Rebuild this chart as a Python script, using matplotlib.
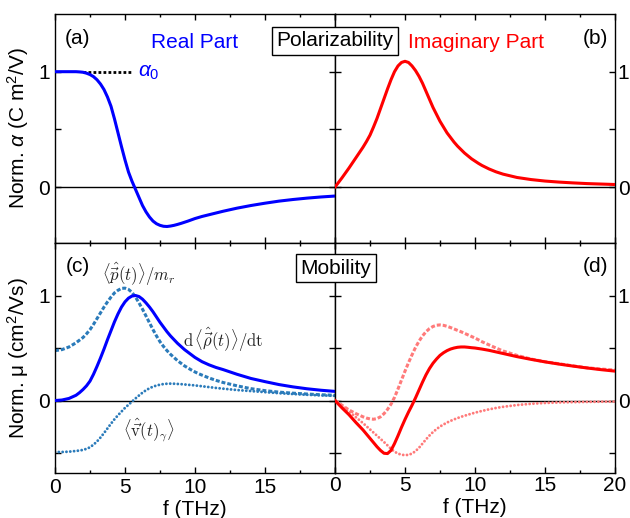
import matplotlib
matplotlib.use('Agg')
import matplotlib.pyplot as plt

plt.rcParams['font.family'] = ['Liberation Sans', 'DejaVu Sans']
plt.rcParams['mathtext.fontset'] = 'custom'
plt.rcParams['mathtext.rm'] = 'Liberation Sans'
plt.rcParams['mathtext.it'] = 'Liberation Sans:italic'
plt.rcParams['mathtext.bf'] = 'Liberation Sans:bold'

# ---------------- data ----------------
freq = [0.0, 0.5, 1.0,
        1.5, 1.75, 2.0, 2.25, 2.5, 2.75, 3.0, 3.25, 3.5, 3.75,
        4.0, 4.25, 4.5, 4.75, 5.0, 5.25, 5.5, 5.75, 6.0, 6.25,
        6.5, 6.75, 7.0, 7.25, 7.5, 7.75, 8.0, 8.25, 8.5, 8.75,
        9.0, 9.25, 9.5, 9.75, 10.0, 10.25, 10.5,
        11.0, 11.5, 12.0, 13.0, 14.0, 15.0, 16.0, 17.0, 18.0, 19.0, 20.0]

alpha_real = [1.0, 1.0, 1.0,
              1.0, 0.998, 0.995, 0.987, 0.975, 0.957, 0.93, 0.893, 0.845, 0.78,
              0.70, 0.59, 0.47, 0.35, 0.235, 0.13, 0.05, -0.02, -0.09, -0.16,
              -0.215, -0.26, -0.295, -0.318, -0.332, -0.34, -0.342, -0.338, -0.332, -0.324,
              -0.315, -0.305, -0.295, -0.284, -0.273, -0.264, -0.255,
              -0.24, -0.225, -0.21, -0.183, -0.16, -0.14, -0.122, -0.108, -0.096, -0.086, -0.078]

alpha_imag = [0.0, 0.08, 0.165,
              0.255, 0.30, 0.345, 0.395, 0.45, 0.52, 0.595, 0.68, 0.765, 0.85,
              0.93, 1.0, 1.05, 1.08, 1.09, 1.08, 1.05, 1.01, 0.96, 0.90,
              0.83, 0.76, 0.69, 0.63, 0.57, 0.52, 0.47, 0.43, 0.39, 0.355,
              0.325, 0.295, 0.27, 0.245, 0.225, 0.205, 0.187,
              0.157, 0.132, 0.112, 0.083, 0.065, 0.052, 0.043, 0.036, 0.030, 0.026, 0.022]

mu_real = [0.0, 0.005, 0.02,
           0.05, 0.075, 0.105, 0.14, 0.185, 0.25, 0.325, 0.405, 0.49, 0.58,
           0.665, 0.75, 0.825, 0.89, 0.94, 0.975, 0.995, 1.0, 0.99, 0.965,
           0.93, 0.89, 0.845, 0.795, 0.745, 0.70, 0.655, 0.615, 0.58, 0.545,
           0.515, 0.485, 0.46, 0.435, 0.41, 0.39, 0.37,
           0.34, 0.315, 0.295, 0.25, 0.21, 0.18, 0.152, 0.13, 0.112, 0.098, 0.087]

mu_real_p = [0.475, 0.485, 0.51,
             0.55, 0.575, 0.60, 0.635, 0.675, 0.725, 0.78, 0.835, 0.89, 0.94,
             0.985, 1.025, 1.05, 1.068, 1.07, 1.058, 1.03, 0.985, 0.93, 0.87,
             0.805, 0.74, 0.675, 0.615, 0.56, 0.515, 0.475, 0.44, 0.41, 0.38,
             0.355, 0.33, 0.31, 0.29, 0.272, 0.256, 0.242,
             0.215, 0.192, 0.172, 0.14, 0.113, 0.094, 0.08, 0.07, 0.062, 0.055, 0.05]

mu_real_v = [-0.49, -0.49, -0.487,
             -0.48, -0.476, -0.47, -0.46, -0.445, -0.42, -0.39, -0.352, -0.31, -0.265,
             -0.22, -0.178, -0.14, -0.105, -0.07, -0.04, -0.01, 0.02, 0.048, 0.075,
             0.098, 0.117, 0.132, 0.143, 0.151, 0.157, 0.16, 0.161, 0.16, 0.158,
             0.156, 0.153, 0.15, 0.147, 0.144, 0.14, 0.136,
             0.128, 0.12, 0.113, 0.10, 0.09, 0.08, 0.07, 0.062, 0.055, 0.049, 0.045]

mu_imag = [0.0, -0.07, -0.135,
           -0.21, -0.245, -0.28, -0.32, -0.36, -0.40, -0.44, -0.475, -0.502, -0.505,
           -0.475, -0.41, -0.335, -0.255, -0.18, -0.11, -0.045, 0.025, 0.10, 0.175,
           0.245, 0.305, 0.355, 0.395, 0.43, 0.455, 0.475, 0.49, 0.50, 0.507,
           0.51, 0.51, 0.507, 0.503, 0.50, 0.495, 0.49,
           0.478, 0.463, 0.448, 0.418, 0.392, 0.368, 0.347, 0.328, 0.31, 0.294, 0.28]

mu_imag_p = [0.0, -0.045, -0.09,
             -0.125, -0.14, -0.155, -0.167, -0.175, -0.178, -0.172, -0.155, -0.125, -0.085,
             -0.035, 0.03, 0.11, 0.195, 0.28, 0.36, 0.435, 0.505, 0.565, 0.615,
             0.655, 0.685, 0.705, 0.717, 0.72, 0.716, 0.707, 0.695, 0.682, 0.668,
             0.655, 0.64, 0.625, 0.61, 0.595, 0.578, 0.56,
             0.53, 0.50, 0.472, 0.43, 0.395, 0.37, 0.35, 0.33, 0.312, 0.30, 0.29]

mu_imag_v = [0.0, -0.055, -0.105,
             -0.16, -0.187, -0.215, -0.245, -0.275, -0.305, -0.335, -0.365, -0.395, -0.427,
             -0.46, -0.487, -0.505, -0.516, -0.52, -0.517, -0.505, -0.482, -0.45, -0.41,
             -0.37, -0.333, -0.30, -0.272, -0.248, -0.228, -0.21, -0.194, -0.18, -0.167,
             -0.155, -0.145, -0.135, -0.125, -0.116, -0.107, -0.099,
             -0.084, -0.071, -0.06, -0.043, -0.031, -0.023, -0.018, -0.015, -0.013, -0.011, -0.01]

alpha0_f = [2.0, 5.5]
alpha0_v = [1.0, 1.0]

x_major = [0, 5, 10, 15, 20]
x_minor = [2.5, 7.5, 12.5, 17.5]

# ---------------- figure ----------------
W, H = 630, 518
fig = plt.figure(figsize=(W / 100, H / 100), dpi=100)

def box(x0, y0, x1, y1):
    return [x0 / W, 1 - y1 / H, (x1 - x0) / W, (y1 - y0) / H]

ax_a = fig.add_axes(box(55, 14, 335, 243))
ax_b = fig.add_axes(box(335, 14, 615, 243))
ax_c = fig.add_axes(box(55, 243, 335, 473))
ax_d = fig.add_axes(box(335, 243, 615, 473))

BLUE = '#0000ff'
RED = '#ff0000'
LBLUE = '#2b7bba'
PINK = '#ff7a7a'
FS = 15
LW = 2.2
DOT_LW = 2.1
DASH = (0, (1.3, 0.65))
DOT = (0, (0.01, 1.3))

for ax in (ax_a, ax_b, ax_c, ax_d):
    ax.set_xlim(0, 20)
    ax.set_xticks(x_major)
    ax.set_xticks(x_minor, minor=True)
    ax.tick_params(which='both', direction='in', top=True, bottom=True,
                   left=True, right=True, width=1, labelsize=FS)
    ax.tick_params(which='major', length=4)
    ax.tick_params(which='minor', length=2.5)
    for s in ax.spines.values():
        s.set_linewidth(1.0)
    ax.axhline(0, color='k', lw=1.0, zorder=1)

for ax in (ax_a, ax_b):
    ax.set_ylim(-0.485, 1.5)
    ax.set_yticks([0, 0.5, 1])
    ax.set_yticklabels(['0', '', '1'])
    ax.set_xticklabels([])

for ax in (ax_c, ax_d):
    ax.set_ylim(-0.69, 1.5)
    ax.set_yticks([-0.5, 0, 0.5, 1])
    ax.set_yticklabels(['', '0', '', '1'])
    ax.set_xlabel('f (THz)', fontsize=FS, labelpad=2)

ax_c.set_xticklabels(['0', '5', '10', '15', ''])
ax_d.set_xticklabels(['0', '5', '10', '15', '20'])

for ax in (ax_b, ax_d):
    ax.tick_params(labelleft=False, labelright=True, pad=2)

# (a) real polarizability
ax_a.plot(freq, alpha_real, color=BLUE, lw=LW, zorder=3)
ax_a.plot(alpha0_f, alpha0_v, color='k', lw=2, linestyle=(0, (1, 0.8)), zorder=2)
ax_a.text(5.95, 0.99, r'$\alpha_0$', color=BLUE, fontsize=FS, ha='left', va='center')
ax_a.text(1.6, 1.29, '(a)', fontsize=FS, ha='center', va='center')
ax_a.text(10.0, 1.255, 'Real Part', color=BLUE, fontsize=FS, ha='center', va='center')
ax_a.set_ylabel(r'Norm. $\alpha$ (C m$^2$/V)', fontsize=FS)
ax_a.yaxis.set_label_coords(-0.085, 0.5)

# (b) imaginary polarizability
ax_b.plot(freq, alpha_imag, color=RED, lw=LW, zorder=3)
ax_b.text(10.04, 1.255, 'Imaginary Part', color=RED, fontsize=FS, ha='center', va='center')
ax_b.text(18.6, 1.29, '(b)', fontsize=FS, ha='center', va='center')

# (c) real mobility
ax_c.plot(freq, mu_real_p, color=LBLUE, lw=LW, linestyle=DASH, zorder=2)
ax_c.plot(freq, mu_real_v, color=LBLUE, lw=DOT_LW, linestyle=DOT,
          dash_capstyle='round', zorder=2)
ax_c.plot(freq, mu_real, color=BLUE, lw=LW, zorder=3)
ax_c.text(1.6, 1.277, '(c)', fontsize=FS, ha='center', va='center')
ax_c.text(6.0, 1.20, r'$\langle\hat{\vec{p}}(t)\rangle/m_r$', fontsize=12,
          ha='center', va='center', math_fontfamily='cm', color='#222222')
ax_c.text(12.0, 0.58, r'$\mathrm{d}\,\langle\hat{\vec{\rho}}(t)\rangle/\mathrm{dt}$',
          fontsize=12, ha='center', va='center', math_fontfamily='cm', color='#222222')
ax_c.text(6.7, -0.28, r'$\langle\hat{\vec{\mathrm{v}}}(t)_\gamma\rangle$', fontsize=12,
          ha='center', va='center', math_fontfamily='cm', color='#222222')
ax_c.set_ylabel('Norm. μ (cm$^2$/Vs)', fontsize=FS)
ax_c.yaxis.set_label_coords(-0.085, 0.5)

# (d) imaginary mobility
ax_d.plot(freq, mu_imag_p, color=PINK, lw=LW, linestyle=DASH, zorder=2)
ax_d.plot(freq, mu_imag_v, color=PINK, lw=DOT_LW, linestyle=DOT,
          dash_capstyle='round', zorder=2)
ax_d.plot(freq, mu_imag, color=RED, lw=LW, zorder=3)
ax_d.text(18.6, 1.277, '(d)', fontsize=FS, ha='center', va='center')

# boxed titles
fig.text(335 / W, 1 - 41 / H, 'Polarizability', fontsize=FS, ha='center', va='center',
         bbox=dict(boxstyle='square,pad=0.2', fc='white', ec='k', lw=1.0), zorder=10)
fig.text(336 / W, 1 - 268 / H, 'Mobility', fontsize=FS, ha='center', va='center',
         bbox=dict(boxstyle='square,pad=0.2', fc='white', ec='k', lw=1.0), zorder=10)

fig.savefig('out.png', dpi=100)
